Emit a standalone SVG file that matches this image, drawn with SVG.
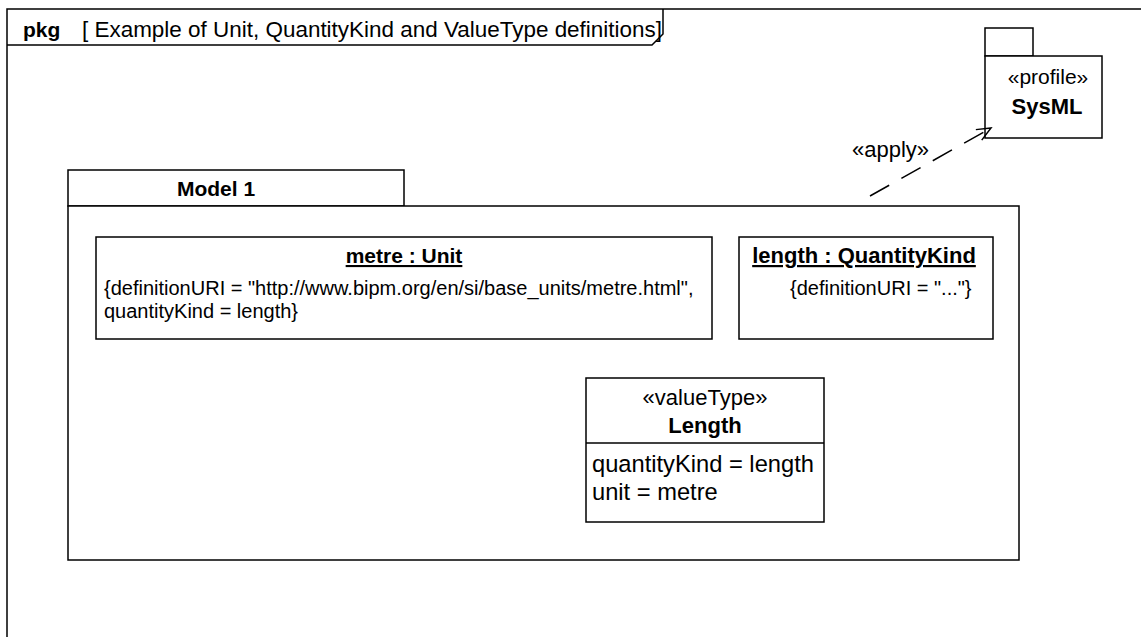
<svg xmlns="http://www.w3.org/2000/svg" width="1141" height="637" viewBox="0 0 1141 637">
<style>
text{font-family:"Liberation Sans",Arial,sans-serif;fill:#000}
.ln{fill:#fff;stroke:#000;stroke-width:1.5}
.b{font-weight:bold}
.t21{font-size:21px}
.t22{font-size:22px}
.t20{font-size:20px}
.t24{font-size:23.7px}
.mid{text-anchor:middle}
</style>
<defs>
<marker id="open" markerWidth="18" markerHeight="18" refX="16" refY="9" orient="auto" markerUnits="userSpaceOnUse">
<path d="M2,3 L16,9 L2,15" fill="none" stroke="#000" stroke-width="1.5"/>
</marker>
</defs>
<rect width="1141" height="637" fill="#fff"/>
<g id="frame">
<path d="M7,645 L7,9 L1150,9" fill="none" stroke="#000" stroke-width="1.5"/>
<path d="M7,45 L652,45 L663,34 L663,9" fill="none" stroke="#000" stroke-width="1.5"/>
<text x="23" y="37" class="b t21">pkg</text>
<text x="82" y="37" class="t22" textLength="580" lengthAdjust="spacingAndGlyphs">[ Example of Unit, QuantityKind and ValueType definitions]</text>
</g>
<g id="sysml">
<rect x="985" y="28" width="48" height="28" class="ln"/>
<rect x="985" y="56" width="117" height="82" class="ln"/>
<text x="1048" y="84" class="t21 mid">«profile»</text>
<text x="1047" y="114" class="t22 mid b">SysML</text>
</g>
<g id="model1">
<rect x="68" y="170" width="336" height="36" class="ln"/>
<rect x="68" y="206" width="951" height="354" class="ln"/>
<text x="216" y="196" class="t21 b mid">Model 1</text>
</g>
<g id="metre">
<rect x="96" y="237" width="616" height="102" class="ln"/>
<text x="404" y="263" class="t21 b mid" text-decoration="underline">metre : Unit</text>
<text x="104" y="295" class="t20">{definitionURI = "http://www.bipm.org/en/si/base_units/metre.html",</text>
<text x="104" y="318" class="t20">quantityKind = length}</text>
</g>
<g id="length">
<rect x="739" y="237" width="254" height="102" class="ln"/>
<text x="864" y="263" class="t22 b mid" text-decoration="underline">length : QuantityKind</text>
<text x="790" y="295" class="t20">{definitionURI = "..."}</text>
</g>
<g id="lengthVT">
<rect x="586" y="378" width="238" height="144" class="ln"/>
<line x1="586" y1="443" x2="824" y2="443" stroke="#000" stroke-width="1.5"/>
<text x="705" y="405" class="t22 mid">«valueType»</text>
<text x="705" y="433" class="t22 b mid">Length</text>
<text x="592" y="472" class="t24">quantityKind = length</text>
<text x="592" y="500" class="t24">unit = metre</text>
</g>
<g id="connectors">
<line x1="870" y1="196" x2="991" y2="128" stroke="#000" stroke-width="1.5" stroke-dasharray="22,14" marker-end="url(#open)"/>
<text x="852" y="157" class="t22">«apply»</text>
</g>
</svg>
